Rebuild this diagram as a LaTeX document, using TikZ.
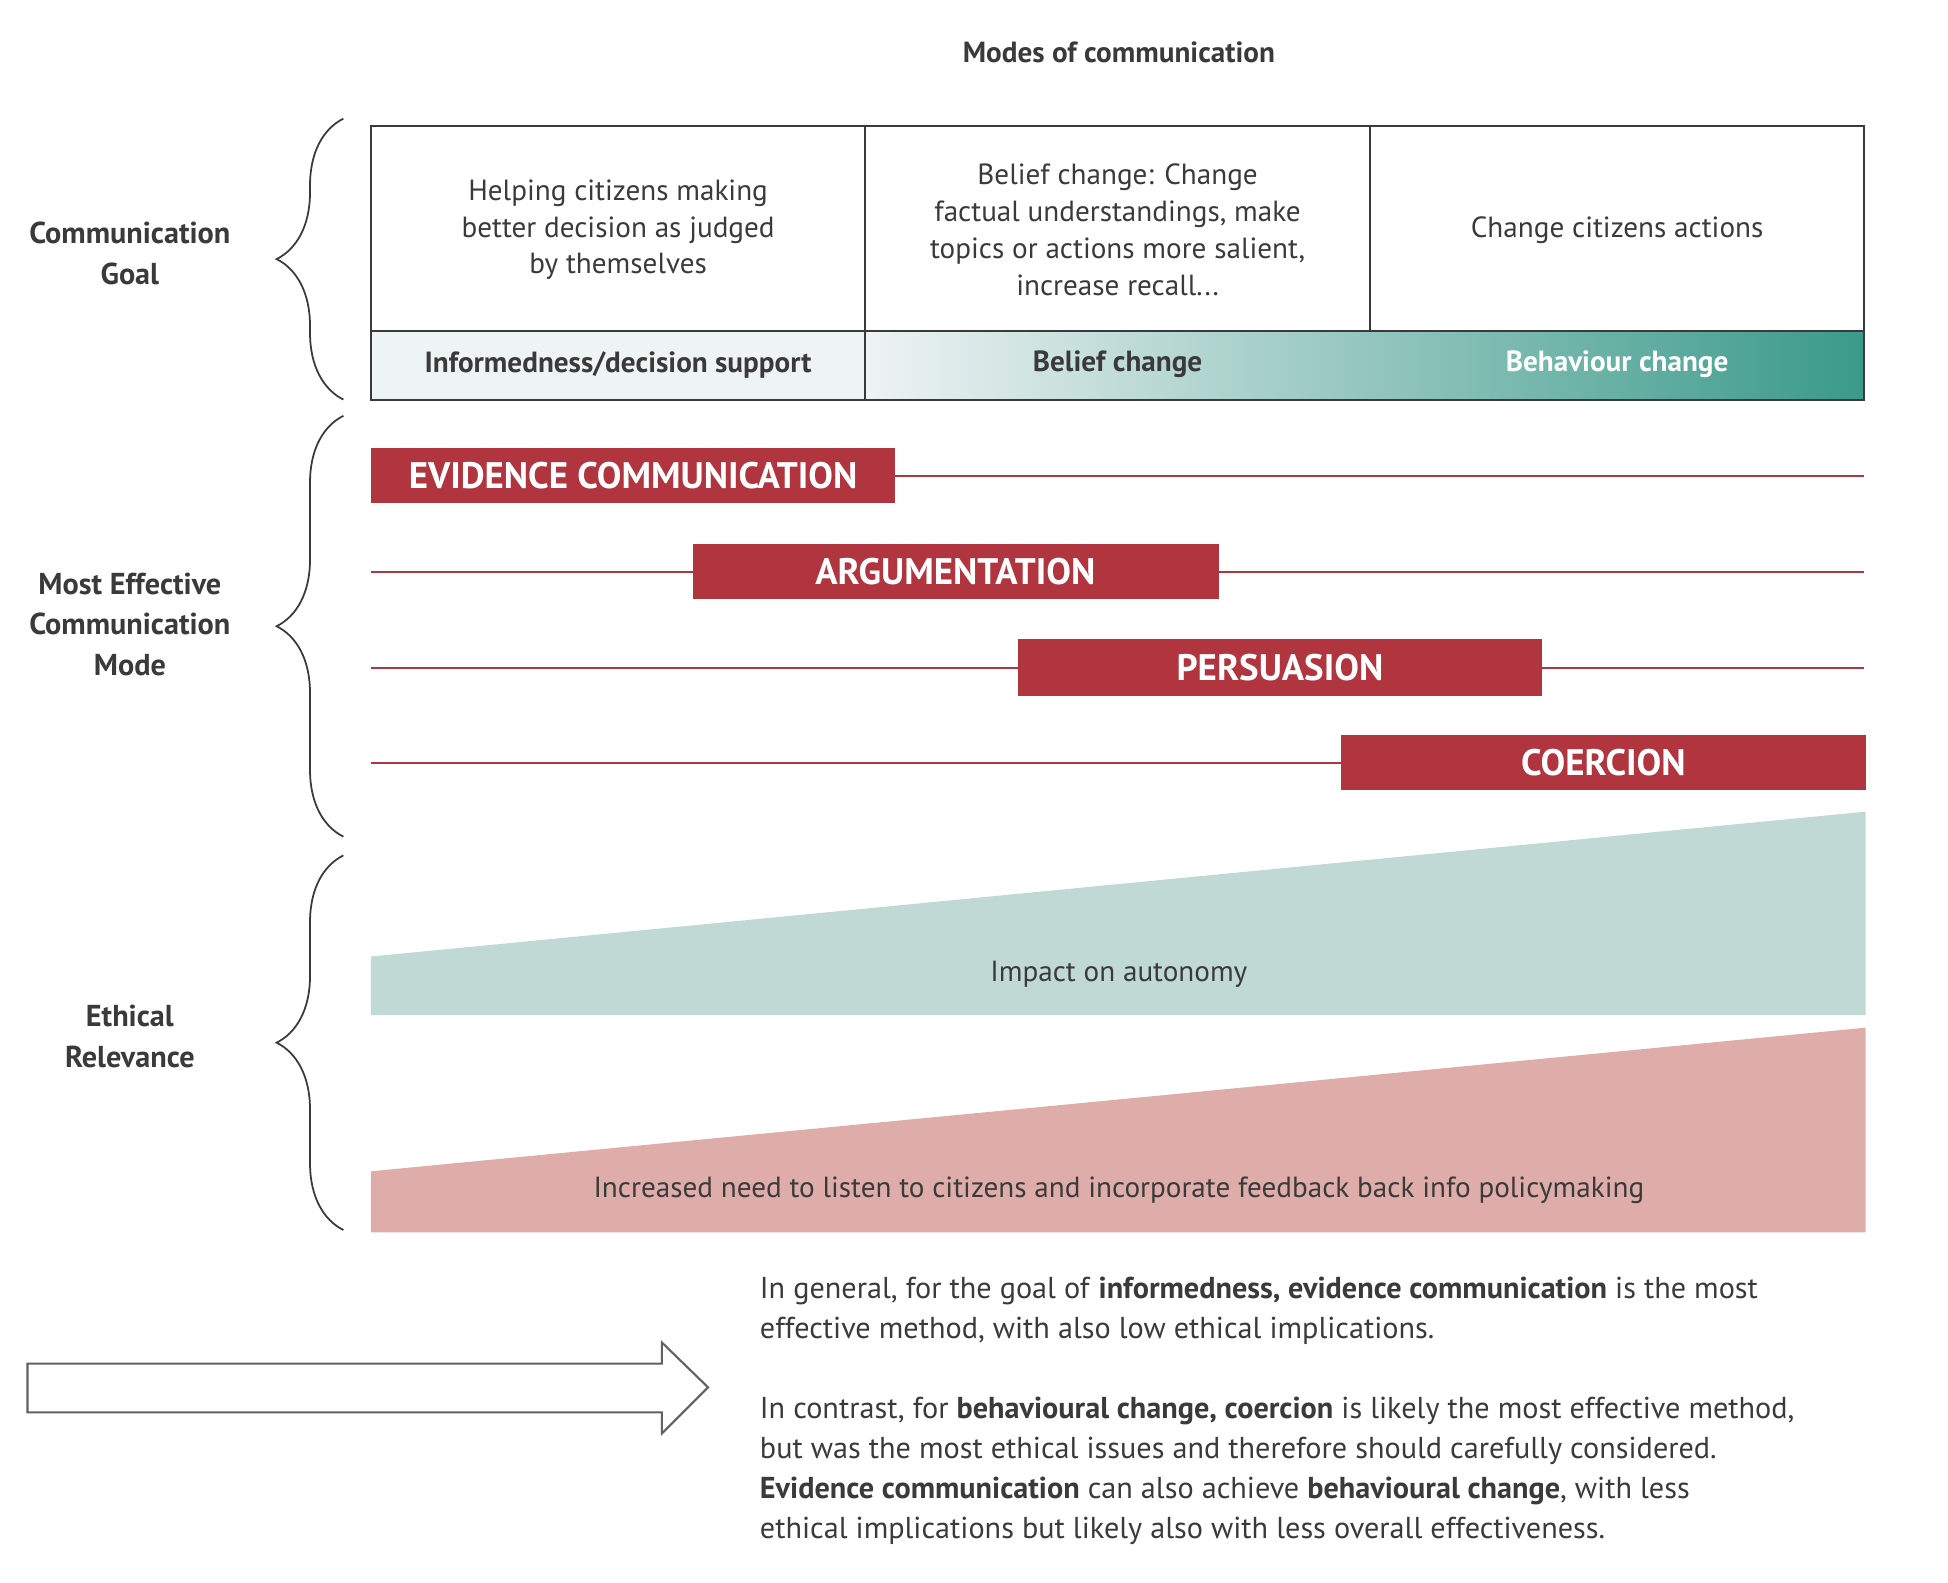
\documentclass[tikz,border=0pt]{standalone}
\usepackage{fontspec}
\setmainfont{PT Sans}
\usetikzlibrary{decorations.pathreplacing}
\definecolor{ecred}{HTML}{B0353F}
\definecolor{tealdark}{HTML}{3A9A8A}
\definecolor{teallight}{HTML}{C0D9D4}
\definecolor{pinklight}{HTML}{DEADAA}
\definecolor{paleblue}{HTML}{EEF3F3}
\definecolor{txt}{HTML}{3A3A3A}
\tikzset{
  cell/.style={align=center, text=txt, font=\fontsize{8.3}{10.5}\selectfont},
  head/.style={text=txt, font=\bfseries\fontsize{8.3}{10}\selectfont},
  side/.style={align=center, text=txt, font=\bfseries\fontsize{8.6}{11.5}\selectfont},
  mode/.style={fill=ecred, text=white, font=\bfseries\fontsize{10.5}{12}\selectfont},
  modeline/.style={ecred, line width=0.5pt},
  bracket/.style={decorate, decoration={brace, amplitude=19pt}, line width=0.5pt, txt}
}
\begin{document}
\begin{tikzpicture}[x=0.1249mm, y=-0.1249mm]
    \useasboundingbox (0,0) rectangle (1560,1267);
    \node[head] (title) at (896,42) {Modes of communication};

    % communication goal table
    \fill[paleblue] (297,265) rectangle (693,320);
    \shade[left color=paleblue, right color=tealdark] (693,265) rectangle (1493,320);
    \draw[txt, line width=0.6pt] (297,101) rectangle (1493,320);
    \draw[txt, line width=0.6pt] (297,265) -- (1493,265);
    \draw[txt, line width=0.6pt] (693,101) -- (693,320);
    \draw[txt, line width=0.6pt] (1097,101) -- (1097,265);
    \node[cell] (goal1) at (495,184) {Helping citizens making\\better decision as judged\\by themselves};
    \node[cell] (goal2) at (895,184) {Belief change: Change\\factual understandings, make\\topics or actions more salient,\\increase recall...};
    \node[cell] (goal3) at (1295,184) {Change citizens actions};
    \node[head] (info) at (495,292) {Informedness/decision support};
    \node[head] (belief) at (895,292) {Belief change};
    \node[head, text=white] (behav) at (1295,292) {Behaviour change};

    % modes
    \draw[modeline] (297,381) -- (1493,381);
    \draw[modeline] (297,458) -- (1493,458);
    \draw[modeline] (297,535) -- (1493,535);
    \draw[modeline] (297,611) -- (1493,611);
    \fill[ecred] (297,359) rectangle (717,403);
    \node[mode] (evid) at (507,381) {EVIDENCE COMMUNICATION};
    \fill[ecred] (555,436) rectangle (976,480);
    \node[mode] (argu) at (765,458) {ARGUMENTATION};
    \fill[ecred] (815,512) rectangle (1235,557);
    \node[mode] (pers) at (1025,535) {PERSUASION};
    \fill[ecred] (1074,589) rectangle (1494,633);
    \node[mode] (coer) at (1284,611) {COERCION};

    % ethical relevance
    \fill[teallight] (297,766) -- (1494,650) -- (1494,813) -- (297,813) -- cycle;
    \node[cell] (auto) at (896,780) {Impact on autonomy};
    \fill[pinklight] (297,938) -- (1494,823) -- (1494,987) -- (297,987) -- cycle;
    \node[cell] (listen) at (896,953) {Increased need to listen to citizens and incorporate feedback back info policymaking};

    % braces and row labels
    \draw[bracket] (275,320) -- (275,95);
    \draw[bracket] (275,670) -- (275,333);
    \draw[bracket] (275,985) -- (275,685);
    \node[side] (lgoal) at (104,203) {Communication\\Goal};
    \node[side] (lmode) at (104,500) {Most Effective\\Communication\\Mode};
    \node[side] (lethic) at (104,830) {Ethical\\Relevance};

    % summary
    \draw[txt!80, line width=0.6pt, fill=white] (22,1092) -- (530,1092) -- (530,1075) -- (567,1111)
      -- (530,1148) -- (530,1131) -- (22,1131) -- cycle;
    \node[anchor=north west, align=left, text=txt, inner sep=0pt,
      font=\fontsize{8.6}{11.4}\selectfont] (summary) at (608,1022)
      {In general, for the goal of \textbf{informedness, evidence communication} is the most\\
       effective method, with also low ethical implications.\\[11.4pt]
       In contrast, for \textbf{behavioural change, coercion} is likely the most effective method,\\
       but was the most ethical issues and therefore should carefully considered.\\
       \textbf{Evidence communication} can also achieve \textbf{behavioural change}, with less\\
       ethical implications but likely also with less overall effectiveness.};
\end{tikzpicture}
\end{document}
